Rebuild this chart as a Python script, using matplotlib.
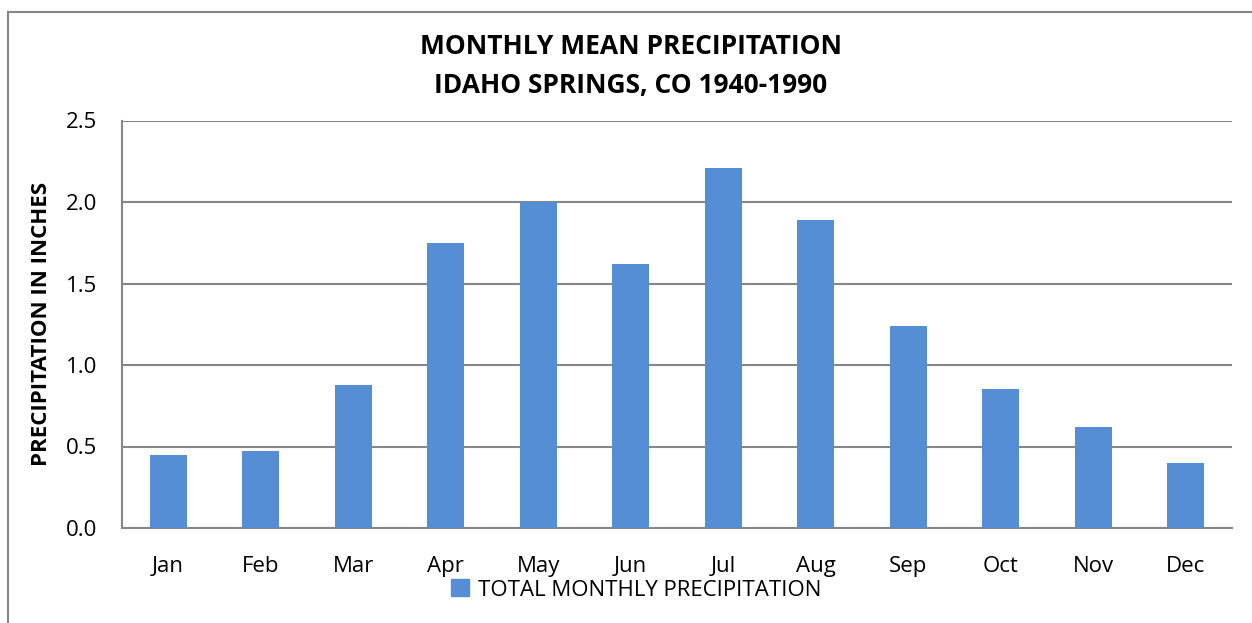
import matplotlib.pyplot as plt
from matplotlib.patches import Patch
from matplotlib.lines import Line2D

months = ['Jan', 'Feb', 'Mar', 'Apr', 'May', 'Jun', 'Jul', 'Aug', 'Sep', 'Oct', 'Nov', 'Dec']
precip = [0.45, 0.47, 0.88, 1.75, 2.00, 1.62, 2.21, 1.89, 1.24, 0.85, 0.62, 0.40]
yticks = [0.0, 0.5, 1.0, 1.5, 2.0, 2.5]

BAR = '#558ed5'
GRID = '#878787'

plt.rcParams['font.family'] = ['Open Sans', 'DejaVu Sans']

fig = plt.figure(figsize=(12.52, 6.23), dpi=100)
W, H = 1252, 623

# outer chart frame (cut off on right and bottom)
fig.add_artist(Line2D([8 / W, 8 / W], [0, 1 - 12 / H], color=GRID, lw=1.5))
fig.add_artist(Line2D([8 / W, 1], [1 - 12 / H, 1 - 12 / H], color=GRID, lw=1.5))

ax = fig.add_axes([122 / W, 1 - 528 / H, (1232 - 122) / W, (528 - 120.5) / H])
x = range(len(months))
ax.bar(x, precip, width=0.4, color=BAR, zorder=3, label='TOTAL MONTHLY PRECIPITATION')
ax.set_xlim(-0.5, 11.5)
ax.set_ylim(0, 2.5)
ax.set_yticks(yticks)
ax.set_yticklabels([f'{v:.1f}' for v in yticks])
ax.set_xticks(list(x))
ax.set_xticklabels(months)
ax.yaxis.grid(True, color=GRID, lw=1.5, zorder=0)
for s in ['top', 'right']:
    ax.spines[s].set_visible(False)
ax.spines['left'].set_color(GRID)
ax.spines['bottom'].set_color(GRID)
ax.spines['left'].set_linewidth(1.5)
ax.spines['bottom'].set_linewidth(1.5)
ax.tick_params(length=0, labelsize=16, pad=20)
ax.tick_params(axis='y', pad=18)

ax.set_ylabel('PRECIPITATION IN INCHES', fontsize=16, fontweight='bold', labelpad=10)

fig.text(631 / W, 1 - 46 / H, 'MONTHLY MEAN PRECIPITATION', ha='center', va='center',
         fontsize=19, fontweight='bold')
fig.text(631 / W, 1 - 85 / H, 'IDAHO SPRINGS, CO 1940-1990', ha='center', va='center',
         fontsize=19, fontweight='bold')

fig.legend(handles=[Patch(color=BAR, label='TOTAL MONTHLY PRECIPITATION')],
           loc='center', bbox_to_anchor=(636 / W, 1 - 590 / H), frameon=False,
           fontsize=16, handlelength=0.8, handleheight=0.8, handletextpad=0.4)

fig.savefig('out.png', dpi=100)
